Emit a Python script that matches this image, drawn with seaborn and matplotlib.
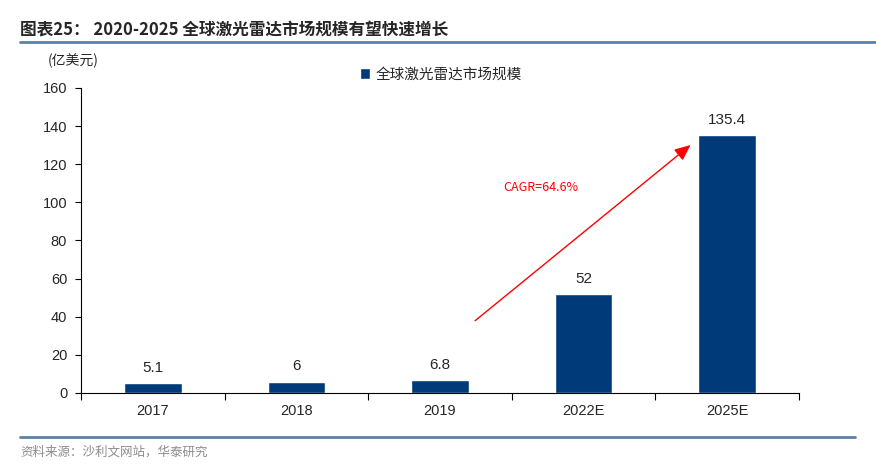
import matplotlib
matplotlib.use("Agg")
import matplotlib.pyplot as plt
import seaborn as sns
import pandas as pd
from matplotlib.lines import Line2D

years = ["2017", "2018", "2019", "2022E", "2025E"]
market_size = [5.1, 6, 6.8, 52, 135.4]
value_labels = ["5.1", "6", "6.8", "52", "135.4"]
y_ticks = [0, 20, 40, 60, 80, 100, 120, 140, 160]

sns.set_theme(style="white")
plt.rcParams['font.family'] = ['Liberation Sans', 'Noto Sans CJK SC', 'DejaVu Sans']
cjk = ['Noto Sans CJK SC', 'DejaVu Sans']

df = pd.DataFrame({"year": years, "value": market_size})
bar_color = "#003a78"

fig = plt.figure(figsize=(8.76, 4.72), dpi=100)
ax = fig.add_axes([0.0925, 0.1674, 0.8195, 0.6462])
sns.barplot(data=df, x="year", y="value", color=bar_color, width=0.4,
            saturation=1, ax=ax, label="全球激光雷达市场规模")

ax.bar_label(ax.containers[0], labels=value_labels, padding=6, fontsize=11)

ax.set_xlim(-0.5, 4.5)
ax.set_ylim(0, 160)
ax.set_yticks(y_ticks)
ax.set_xlabel("")
ax.set_ylabel("")
for s in ["top", "right"]:
    ax.spines[s].set_visible(False)
ax.spines["left"].set_color("black")
ax.spines["bottom"].set_color("black")
ax.spines["left"].set_linewidth(0.8)
ax.spines["bottom"].set_linewidth(0.8)
ax.tick_params(axis="y", direction="out", length=4, width=0.8, color="black",
               left=True, labelsize=10.5, pad=6)
ax.tick_params(axis="x", which="major", length=0, labelsize=10.5, pad=8)
ax.set_xticks([-0.5, 0.5, 1.5, 2.5, 3.5, 4.5], minor=True)
ax.tick_params(axis="x", which="minor", direction="out", length=5, width=0.8,
               color="black", bottom=True)

# growth arrow
ax.annotate("", xy=(3.76, 131), xytext=(2.23, 37),
            arrowprops=dict(arrowstyle="-|>,head_length=0.8,head_width=0.35",
                            color="red", lw=1))
ax.text(2.44, 108, "CAGR=64.6%", color="red", fontsize=9, family=cjk,
        va="center", ha="left")

leg = ax.legend(loc="upper left", bbox_to_anchor=(0.37, 1.11), frameon=False,
                handlelength=0.7, handleheight=0.7, handletextpad=0.4,
                prop={"family": cjk, "size": 10.5})

fig.text(0.054, 0.872, "(亿美元)", fontsize=10, family=cjk, va="center")
fig.text(0.023, 0.935, "图表25： 2020-2025 全球激光雷达市场规模有望快速增长",
         fontsize=12, weight="bold", family=cjk, va="center")
fig.add_artist(Line2D([0.023, 1.0], [0.91, 0.91], color="#5b82a6", lw=2))
fig.add_artist(Line2D([0.023, 0.976], [0.074, 0.074], color="#5b82a6", lw=2))
fig.text(0.023, 0.042, "资料来源：沙利文网站，华泰研究", fontsize=9,
         color="#8c8c8c", family=cjk, va="center")

fig.savefig("out.png", dpi=100)
